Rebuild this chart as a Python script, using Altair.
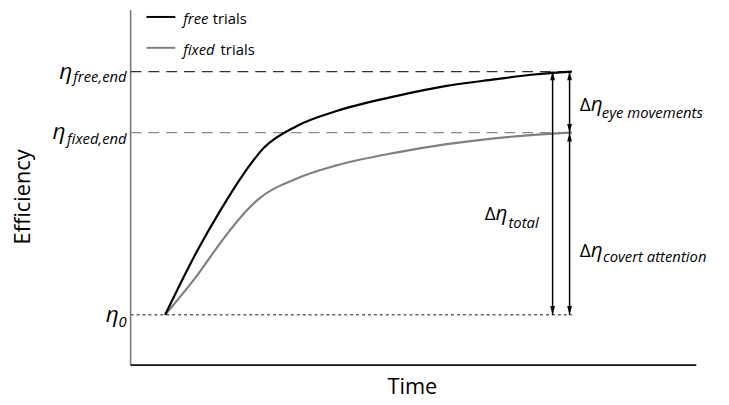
import altair as alt
import pandas as pd

# ---- data (time and efficiency in arbitrary units, 0..100) ----
time_free = [6.1, 11.9, 15.9, 19.8, 23.6, 29.4, 36.4, 46.9, 55.6, 64.3, 71.3, 78.0]
eff_free = [14.2, 32.6, 43.7, 53.5, 61.3, 67.4, 71.6, 75.8, 78.6, 80.5, 81.9, 82.7]
time_fixed = [6.1, 11.9, 16.3, 20.6, 22.4, 29.4, 36.4, 46.9, 55.6, 64.3, 71.3, 78.0]
eff_fixed = [14.2, 25.6, 35.4, 43.7, 46.5, 52.6, 56.3, 59.9, 62.2, 63.9, 64.9, 65.5]

eta_0 = 14.2
eta_fixed_end = 65.5
eta_free_end = 82.7
t_end = 78.0
t_arrow_total = 74.6
t_arrow_parts = 77.6

FONT = "Open Sans"
xs = alt.Scale(domain=[0, 100], nice=False, zero=False)
ys = alt.Scale(domain=[0, 100], nice=False, zero=False)


def X(f="t"):
    return alt.X(f, type="quantitative", scale=xs, axis=None)


def Y(f="e"):
    return alt.Y(f, type="quantitative", scale=ys, axis=None)


curves = pd.concat([
    pd.DataFrame({"t": time_free, "e": eff_free, "trial": "free"}),
    pd.DataFrame({"t": time_fixed, "e": eff_fixed, "trial": "fixed"}),
])

layers = []

# axes
layers.append(alt.Chart(pd.DataFrame({"t": [0], "e": [0], "e2": [100]})).mark_rule(
    color="#7a7a7a", strokeWidth=1.6).encode(x=X(), y=Y(), y2="e2:Q"))
layers.append(alt.Chart(pd.DataFrame({"t": [0], "t2": [100], "e": [0]})).mark_rule(
    color="#111111", strokeWidth=1.8).encode(x=X(), x2="t2:Q", y=Y()))


# reference lines
def hline(level, color, dash, width=1.3):
    return alt.Chart(pd.DataFrame({"t": [0], "t2": [t_end], "e": [level]})).mark_rule(
        color=color, strokeDash=dash, strokeWidth=width).encode(x=X(), x2="t2:Q", y=Y())


layers.append(hline(eta_free_end, "#333333", [11, 7]))
layers.append(hline(eta_fixed_end, "#8a8a8a", [11, 7]))
layers.append(hline(eta_0, "#666666", [3, 3], 1.5))

# curves
for name, col in [("fixed", "#808080"), ("free", "#000000")]:
    layers.append(alt.Chart(curves[curves.trial == name]).mark_line(
        color=col, strokeWidth=2.2, interpolate="monotone").encode(x=X(), y=Y(), order="t:Q"))

# arrows
arrows = pd.DataFrame({
    "t": [t_arrow_total, t_arrow_parts, t_arrow_parts],
    "top": [eta_free_end, eta_free_end, eta_fixed_end],
    "bottom": [eta_0, eta_fixed_end, eta_0],
})
layers.append(alt.Chart(arrows).mark_rule(color="#000000", strokeWidth=1.5).encode(
    x=X(), y=Y("top"), y2="bottom:Q"))
layers.append(alt.Chart(arrows).mark_point(
    shape="M0,0L-0.6,2.2L0.6,2.2Z", filled=True, color="#000000", opacity=1, size=64, strokeWidth=0
).encode(x=X(), y=Y("top")))
layers.append(alt.Chart(arrows).mark_point(
    shape="M0,0L-0.6,-2.2L0.6,-2.2Z", filled=True, color="#000000", opacity=1, size=64, strokeWidth=0
).encode(x=X(), y=Y("bottom")))

# legend
legend_lines = pd.DataFrame({"t": [2.8, 2.8], "t2": [7.9, 7.9], "e": [98.1, 89.4], "trial": ["free", "fixed"]})
for name, col in [("free", "#000000"), ("fixed", "#808080")]:
    layers.append(alt.Chart(legend_lines[legend_lines.trial == name]).mark_rule(
        color=col, strokeWidth=2).encode(x=X(), x2="t2:Q", y=Y()))


def label(text, t, e, size, style="normal", align="left", dy=0, dx=0, angle=0, color="#000000"):
    kw = dict(text=text, align=align, baseline="alphabetic", font=FONT, fontSize=size,
              fontStyle=style, color=color, dy=dy, dx=dx)
    if angle:
        kw["angle"] = angle
        kw["baseline"] = "middle"
    return alt.Chart(pd.DataFrame({"t": [t], "e": [e]})).mark_text(**kw).encode(x=X(), y=Y())


layers += [
    label("free", 9.3, 96.2, 15, "italic"),
    label("trials", 14.5, 96.2, 15),
    label("fixed", 9.3, 87.5, 15, "italic"),
    label("trials", 15.9, 87.5, 15),
    # eta labels
    label("η", -10.3, eta_free_end, 23, "italic", align="right", dy=7),
    label("free,end", -0.7, eta_free_end, 15, "italic", align="right", dy=11),
    label("η", -11.5, eta_fixed_end, 23, "italic", align="right", dy=6),
    label("fixed,end", -0.7, eta_fixed_end, 15, "italic", align="right", dy=11),
    label("η", -2.1, eta_0, 23, "italic", align="right", dy=7),
    label("0", -0.7, eta_0, 15, "italic", align="right", dy=12),
    # delta labels
    label("Δ", 62.6, 40.9, 19),
    label("η", 62.6, 40.9, 21, "italic", dx=11),
    label("total", 66.8, 38.7, 15, "italic"),
    label("Δ", 79.4, 71.6, 19),
    label("η", 79.4, 71.6, 21, "italic", dx=11),
    label("eye movements", 83.3, 69.6, 15, "italic"),
    label("Δ", 79.4, 30.6, 19),
    label("η", 79.4, 30.6, 21, "italic", dx=11),
    label("covert attention", 83.5, 29.0, 15, "italic"),
    # axis titles
    label("Efficiency", -19.0, 47.4, 22, align="center", angle=270),
    label("Time", 49.8, -8.0, 22, align="center"),
]

chart = alt.layer(*layers).properties(
    width=572, height=359,
    autosize=alt.AutoSizeParams(type="none"),
    padding={"left": 124, "top": 0, "right": 25, "bottom": 38},
).configure_view(stroke=None)

chart.save("out.html", embed_options={"renderer": "svg", "actions": False})
